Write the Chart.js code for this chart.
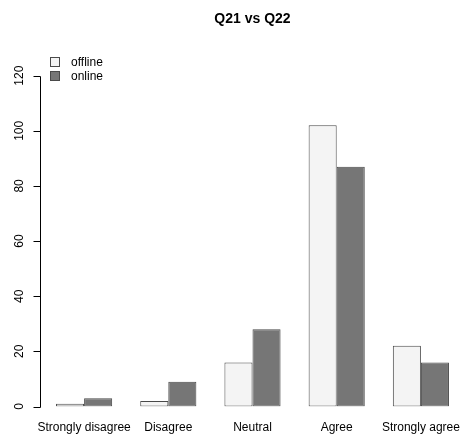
<!DOCTYPE html>
<html>
<head>
<meta charset="utf-8">
<script src="https://cdn.jsdelivr.net/npm/chart.js@4/dist/chart.umd.min.js"></script>
<style>
  html, body { margin: 0; padding: 0; background: #ffffff; overflow: hidden; }
  #wrap { position: relative; width: 463px; height: 435px; }
</style>
</head>
<body>
<div id="wrap"><canvas id="chart"></canvas></div>
<script>
// Responses to Q21 split by Q22 answer
const categories = ['Strongly disagree', 'Disagree', 'Neutral', 'Agree', 'Strongly agree'];
const offlineCounts = [1, 2, 16, 102, 22];
const onlineCounts = [3, 9, 28, 87, 16];
const seriesNames = ['offline', 'online'];
const yTicks = [0, 20, 40, 60, 80, 100, 120];
const chartTitle = 'Q21 vs Q22';

const FONT = '"Liberation Sans", Arial, Helvetica, sans-serif';
const FILLS = ['#f4f4f4', '#767676'];
const EDGE = '#4a4a4a';

// Left axis: line spans only the labelled range, with outward ticks
const axisPlugin = {
  id: 'baseAxis',
  afterDraw(chart) {
    const { ctx, chartArea, scales } = chart;
    const y = scales.y;
    const x0 = chartArea.left - 1.5;
    ctx.save();
    ctx.strokeStyle = '#000000';
    ctx.lineWidth = 1;
    ctx.beginPath();
    const top = Math.round(y.getPixelForValue(yTicks[yTicks.length - 1])) + 0.5;
    const bot = Math.round(y.getPixelForValue(yTicks[0])) + 0.5;
    ctx.moveTo(x0, top);
    ctx.lineTo(x0, bot);
    yTicks.forEach(v => {
      const p = Math.round(y.getPixelForValue(v)) + 0.5;
      ctx.moveTo(x0, p);
      ctx.lineTo(x0 - 7, p);
    });
    ctx.stroke();
    ctx.restore();
  }
};

// Title centred over the plotting region, plus the key in its top-left corner
const annotatePlugin = {
  id: 'annotate',
  afterDraw(chart) {
    const { ctx, chartArea } = chart;
    ctx.save();
    ctx.fillStyle = '#000000';
    ctx.font = 'bold 14px ' + FONT;
    ctx.textAlign = 'center';
    ctx.textBaseline = 'middle';
    ctx.fillText(chartTitle, (chartArea.left + chartArea.right) / 2, 19);

    ctx.font = '12px ' + FONT;
    ctx.textAlign = 'left';
    seriesNames.forEach((name, i) => {
      const cy = 62 + i * 14;
      ctx.fillStyle = FILLS[i];
      ctx.fillRect(51, cy - 4, 8, 8);
      ctx.strokeStyle = EDGE;
      ctx.lineWidth = 1;
      ctx.strokeRect(50.5, cy - 4.5, 9, 9);
      ctx.fillStyle = '#000000';
      ctx.fillText(name, 71, cy + 1);
    });
    ctx.restore();
  }
};

new Chart(document.getElementById('chart'), {
  type: 'bar',
  data: {
    labels: categories,
    datasets: [
      { label: seriesNames[0], data: offlineCounts, backgroundColor: FILLS[0] },
      { label: seriesNames[1], data: onlineCounts, backgroundColor: FILLS[1] }
    ]
  },
  options: {
    responsive: true,
    maintainAspectRatio: false,
    animation: false,
    devicePixelRatio: 1,
    layout: { padding: { top: 55, bottom: 0, left: 0, right: 0 } },
    datasets: {
      bar: {
        borderColor: EDGE,
        borderWidth: 1,
        borderSkipped: false,
        categoryPercentage: 2 / 3,
        barPercentage: 1
      }
    },
    plugins: {
      legend: { display: false },
      title: { display: false },
      tooltip: { enabled: false }
    },
    scales: {
      x: {
        type: 'category',
        offset: true,
        grid: { display: false, drawTicks: false },
        border: { display: false },
        afterFit(scale) {
          scale.height = 28.5;
          scale.paddingLeft = 0;
          scale.paddingRight = 0;
        },
        ticks: {
          color: '#000000',
          font: { family: FONT, size: 12 },
          padding: 14,
          maxRotation: 0,
          autoSkip: false
        }
      },
      y: {
        min: 0,
        max: 127.5,
        grid: { display: false, drawTicks: false },
        border: { display: false },
        afterBuildTicks(scale) {
          scale.ticks = yTicks.map(v => ({ value: v }));
        },
        afterFit(scale) { scale.width = 42; },
        ticks: {
          color: '#000000',
          font: { family: FONT, size: 12 },
          minRotation: 90,
          maxRotation: 90,
          crossAlign: 'center',
          padding: 12
        }
      }
    }
  },
  plugins: [axisPlugin, annotatePlugin]
});
</script>
</body>
</html>
